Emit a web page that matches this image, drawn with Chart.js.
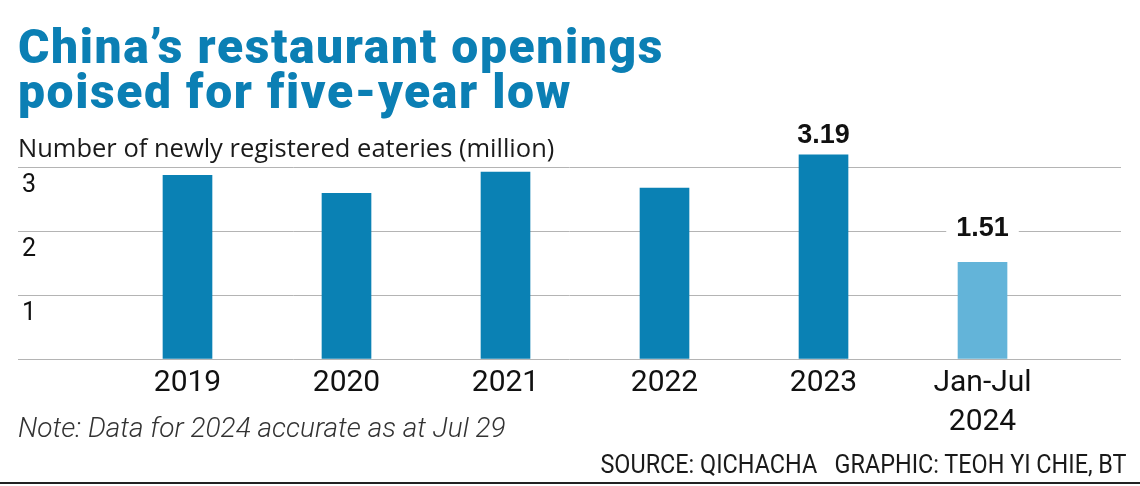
<!DOCTYPE html>
<html>
<head>
<meta charset="utf-8">
<script src="https://cdn.jsdelivr.net/npm/chart.js@4/dist/chart.umd.min.js"></script>
<style>
html,body{margin:0;padding:0;background:#fff;}
#wrap{position:relative;width:1140px;height:486px;overflow:hidden;background:#fff;}
#c{position:absolute;left:0;top:0;}
.t{position:absolute;white-space:nowrap;font-family:Roboto,"Liberation Sans",sans-serif;}
#title{left:18px;top:24px;font-weight:900;font-size:48px;line-height:45px;letter-spacing:1.6px;color:#0b7fb4;}
#sub{left:18px;top:135px;font-family:"Open Sans",Roboto,sans-serif;font-size:25.5px;line-height:25.5px;color:#1a1a1a;}
#note{left:18px;top:414px;font-size:28px;line-height:28px;font-style:italic;font-weight:300;color:#333;}
#src{right:13px;top:451px;font-size:26px;line-height:26px;color:#1a1a1a;transform:scaleX(0.9);transform-origin:right center;}
#rule{position:absolute;left:0;right:0;top:482px;height:2px;background:#222;}
</style>
</head>
<body>
<div id="wrap">
  <canvas id="c" width="1140" height="486"></canvas>
  <div class="t" id="title">China’s restaurant openings<br>poised for five-year low</div>
  <div class="t" id="sub">Number of newly registered eateries (million)</div>
  <div class="t" id="note">Note: Data for 2024 accurate as at Jul 29</div>
  <div class="t" id="src">SOURCE: QICHACHA&nbsp;&nbsp;&nbsp;GRAPHIC: TEOH YI CHIE, BT</div>
  <div id="rule"></div>
</div>
<script>
// ---- data ----
const categories = ['2019', '2020', '2021', '2022', '2023', ['Jan-Jul', '2024']];
const values = [2.87, 2.59, 2.92, 2.67, 3.19, 1.51];
const yTickValues = [0, 1, 2, 3];
const yTickLabels = ['', '1', '2', '3'];
const valueLabels = ['', '', '', '', '3.19', '1.51'];

// ---- styles ----
const DARK = '#0a81b4';
const LIGHT = '#63b4d9';
const GRID = '#b4b4b4';

const valueLabelPlugin = {
  id: 'valueLabels',
  afterDatasetsDraw(chart, args, opts) {
    const ctx = chart.ctx;
    const meta = chart.getDatasetMeta(0);
    ctx.save();
    ctx.font = 'bold 27px "Liberation Sans", Arial, sans-serif';
    ctx.textAlign = 'center';
    ctx.textBaseline = 'alphabetic';
    valueLabels.forEach((lab, i) => {
      if (!lab) return;
      const bar = meta.data[i];
      const gap = (opts.gaps && opts.gaps[i] != null) ? opts.gaps[i] : 14;
      const by = bar.y - gap;
      const w = ctx.measureText(lab).width + 20;
      ctx.fillStyle = '#fff';
      ctx.fillRect(bar.x - w / 2, by - 24, w, 30);
      ctx.fillStyle = '#111';
      ctx.fillText(lab, bar.x, by);
    });
    ctx.restore();
  }
};

new Chart(document.getElementById('c'), {
  type: 'bar',
  data: {
    datasets: [{
      data: values.map((v, i) => ({ x: i, y: v })),
      backgroundColor: ctx => (ctx.dataIndex === values.length - 1 ? LIGHT : DARK),
      borderWidth: 0,
      barThickness: 49,
      clip: false
    }]
  },
  options: {
    responsive: false,
    animation: false,
    events: [],
    layout: { padding: { left: 18, right: 19, top: 167, bottom: 0 } },
    plugins: {
      legend: { display: false },
      tooltip: { enabled: false },
      title: { display: false },
      valueLabels: { gaps: { 4: 12, 5: 26 } }
    },
    scales: {
      x: {
        type: 'linear',
        offset: false,
        min: -1.066,
        max: 5.871,
        grid: { display: false, offset: false },
        border: { display: false },
        afterFit: s => { s.height = 127; },
        afterBuildTicks: s => { s.ticks = categories.map((c, i) => ({ value: i })); },
        ticks: {
          autoSkip: false,
          maxRotation: 0,
          padding: -3,
          color: '#111',
          font: { family: 'Roboto', size: 30, lineHeight: 1.3 },
          callback: (v) => categories[v]
        }
      },
      y: {
        min: 0,
        max: 3,
        afterFit: s => { s.width = 0; },
        afterBuildTicks: s => { s.ticks = yTickValues.map(v => ({ value: v })); },
        grid: { color: GRID, lineWidth: 1, drawTicks: false },
        border: { display: false },
        ticks: {
          mirror: true,
          padding: 4,
          labelOffset: 19,
          color: '#111',
          font: { family: 'Roboto', size: 25 },
          callback: (v) => yTickLabels[yTickValues.indexOf(v)]
        }
      }
    }
  },
  plugins: [valueLabelPlugin]
});
</script>
</body>
</html>
